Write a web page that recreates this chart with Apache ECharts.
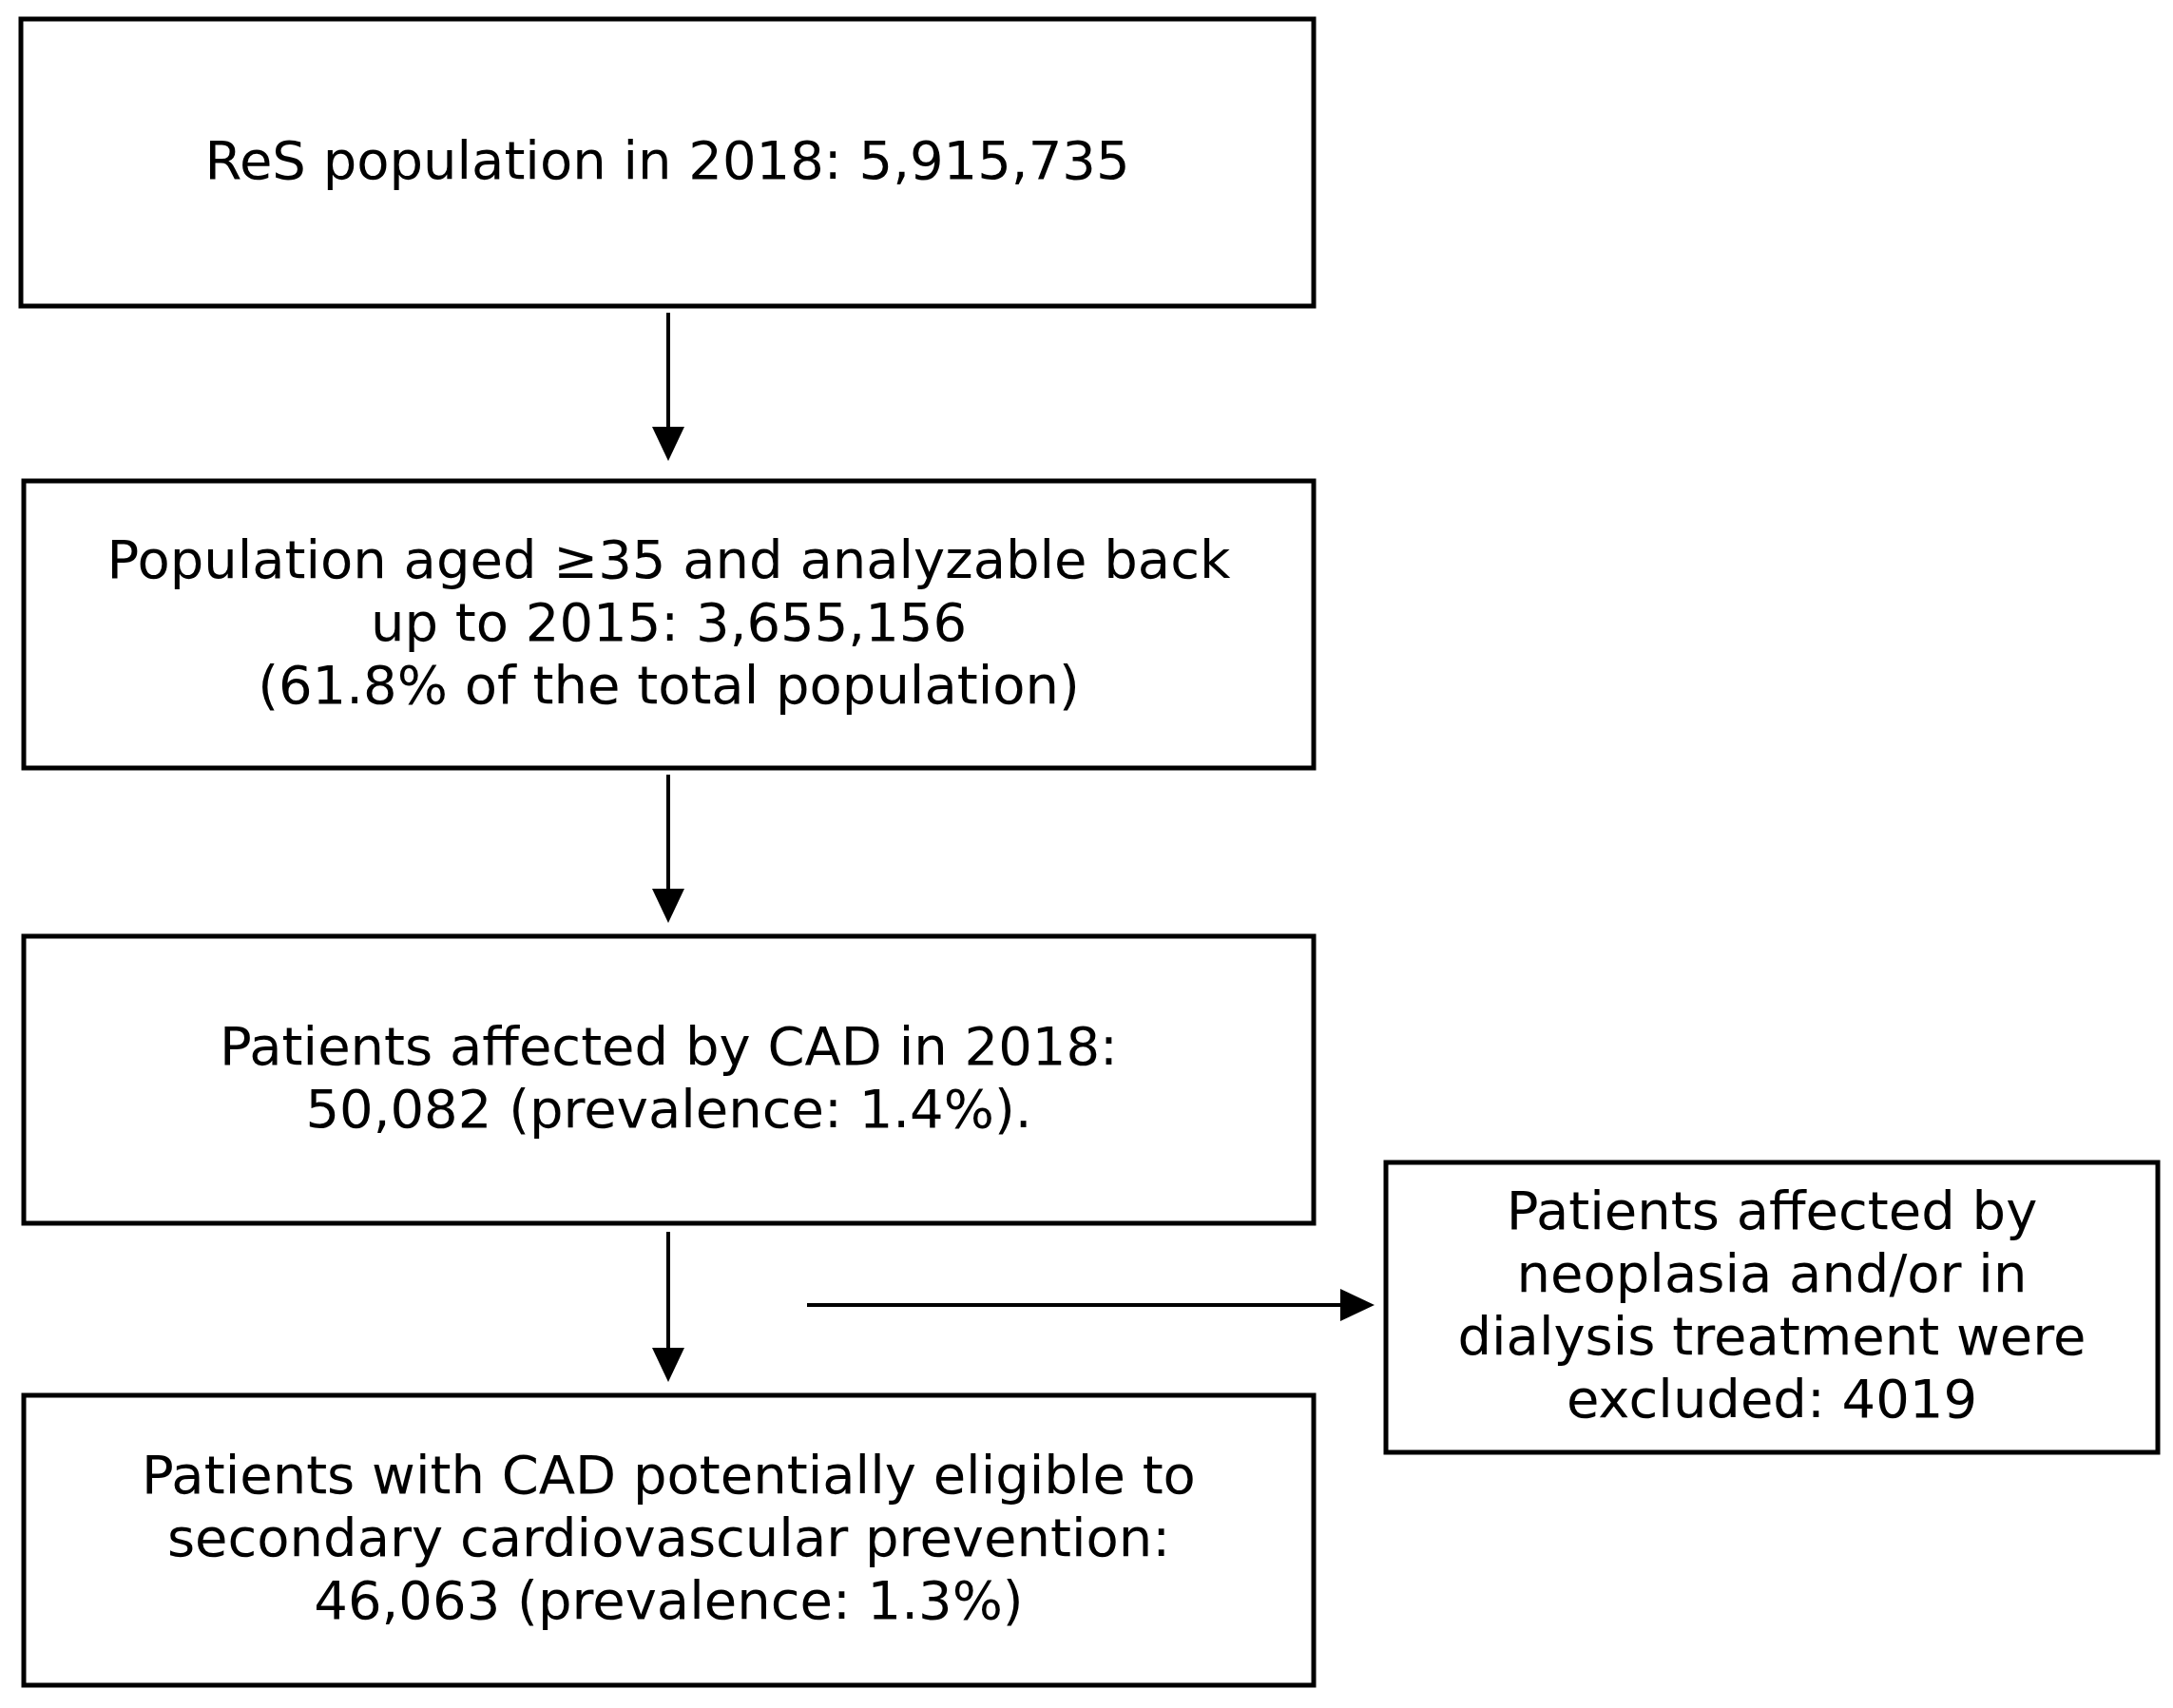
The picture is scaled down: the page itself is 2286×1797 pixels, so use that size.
<!DOCTYPE html>
<html><head><meta charset="utf-8">
<script src="https://cdn.jsdelivr.net/npm/echarts@6/dist/echarts.min.js"></script>
<style>html,body{margin:0;padding:0;background:#fff}#c{width:2286px;height:1797px}</style>
</head><body><div id="c"></div>
<script>
// Content
const boxTexts = [
  "ReS population in 2018: 5,915,735",
  "Population aged \u226535 and analyzable back\nup to 2015: 3,655,156\n(61.8% of the total population)",
  "Patients affected by CAD in 2018:\n50,082 (prevalence: 1.4%).",
  "Patients with CAD potentially eligible to\nsecondary cardiovascular prevention:\n46,063 (prevalence: 1.3%)",
  "Patients affected by\nneoplasia and/or in\ndialysis treatment were\nexcluded: 4019"
];
const counts = [5915735, 3655156, 50082, 46063, 4019];

// Layout (in canvas units of the hidden axes)
const boxLayout = [
  [22, 20, 1382, 322],
  [25, 506, 1382, 808],
  [25, 985, 1382, 1287],
  [25, 1468, 1382, 1773],
  [1458, 1223, 2270, 1528]
];
const arrowLayout = [
  [703, 329, 703, 485],
  [703, 815, 703, 971],
  [703, 1296, 703, 1454],
  [849, 1373, 1446, 1373]
];

const chart = echarts.init(document.getElementById('c'), null, {renderer: 'canvas'});
const FONT = 'DejaVu Sans';
chart.setOption({
  animation: false,
  backgroundColor: '#fff',
  grid: {left: 0, right: 0, top: 0, bottom: 0},
  xAxis: {type: 'value', min: 0, max: 2286, show: false},
  yAxis: {type: 'value', min: 0, max: 1797, inverse: true, show: false},
  series: [
    {
      type: 'custom',
      coordinateSystem: 'cartesian2d',
      data: boxLayout.map((b, i) => [b[0], b[1], b[2], b[3], i]),
      renderItem: function (params, api) {
        const p0 = api.coord([api.value(0), api.value(1)]);
        const p1 = api.coord([api.value(2), api.value(3)]);
        const idx = api.value(4);
        return {
          type: 'group',
          children: [
            {type: 'rect', shape: {x: p0[0], y: p0[1], width: p1[0] - p0[0], height: p1[1] - p0[1]},
             style: {fill: '#fff', stroke: '#000', lineWidth: 5}},
            {type: 'text', x: (p0[0] + p1[0]) / 2, y: (p0[1] + p1[1]) / 2 + 2,
             style: {text: boxTexts[idx], fill: '#000', font: '56px "' + FONT + '"',
                     align: 'center', verticalAlign: 'middle', lineHeight: 66}}
          ]
        };
      }
    },
    {
      type: 'custom',
      coordinateSystem: 'cartesian2d',
      data: arrowLayout,
      renderItem: function (params, api) {
        const a = api.coord([api.value(0), api.value(1)]);
        const b = api.coord([api.value(2), api.value(3)]);
        const dx = b[0] - a[0], dy = b[1] - a[1];
        const len = Math.sqrt(dx * dx + dy * dy);
        const ux = dx / len, uy = dy / len;
        const hl = 36, hw = 17;
        const base = [b[0] - ux * hl, b[1] - uy * hl];
        return {
          type: 'group',
          children: [
            {type: 'line', shape: {x1: a[0], y1: a[1], x2: base[0], y2: base[1]},
             style: {stroke: '#000', lineWidth: 4}},
            {type: 'polygon', shape: {points: [
              [b[0], b[1]],
              [base[0] - uy * hw, base[1] + ux * hw],
              [base[0] + uy * hw, base[1] - ux * hw]
            ]}, style: {fill: '#000'}}
          ]
        };
      }
    }
  ]
});
</script></body></html>
